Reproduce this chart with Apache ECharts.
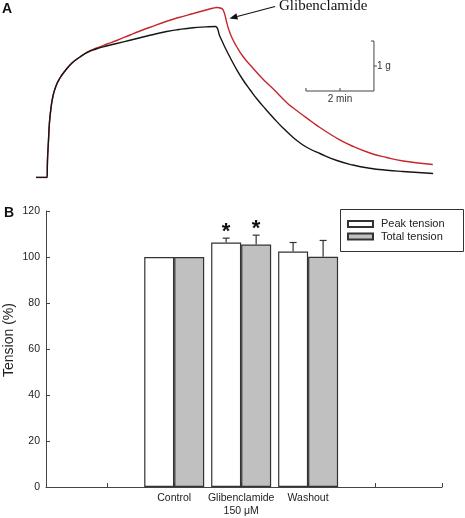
<!DOCTYPE html>
<html><head><meta charset="utf-8">
<script src="https://cdn.jsdelivr.net/npm/echarts@6/dist/echarts.min.js"></script>
<style>html,body{margin:0;padding:0;background:#fff}#c{width:465px;height:518px}</style>
</head><body><div id="c"></div>
<script>
// ---------- Panel A: tension traces (time in min, tension in g) ----------
const timeBlack = [0,0.324,0.338,0.368,0.397,0.441,0.5,0.588,0.706,0.853,1.059,1.294,1.529,1.765,2.07,2.374,2.765,3.059,3.353,3.844,4.2,4.618,5.0,5.265,
  5.41,5.56,5.71,5.90,6.10,6.30,6.50,6.75,7.00,7.25,7.50,7.75,8.00,8.35,8.85,9.32,9.82,10.32,10.79,11.68];
const tensionBlack = [0,0,0.35,0.75,1.11,1.39,1.63,1.83,1.99,2.13,2.29,2.41,2.51,2.57,2.63,2.68,2.745,2.795,2.845,2.92,2.96,2.995,3.012,3.02,
  2.82,2.6,2.40,2.16,1.94,1.75,1.57,1.37,1.18,1.0,0.84,0.70,0.59,0.48,0.34,0.25,0.185,0.145,0.12,0.08];
const timeRed = [0,0.324,0.338,0.368,0.397,0.441,0.5,0.588,0.706,0.853,1.059,1.294,1.529,1.765,2.07,2.374,2.765,3.059,3.353,3.844,4.2,4.626,5.0,5.2,5.315,
  5.46,5.51,5.56,5.61,5.66,5.76,5.90,6.10,6.39,6.70,6.98,7.37,7.57,7.86,8.16,8.35,8.84,9.33,9.82,10.31,10.8,11.67];
const tensionRed = [0,0,0.35,0.75,1.11,1.39,1.63,1.83,1.99,2.13,2.29,2.41,2.515,2.585,2.665,2.74,2.85,2.93,3.005,3.125,3.2,3.28,3.35,3.385,3.40,
  3.38,3.34,3.24,3.1,2.98,2.80,2.62,2.41,2.18,1.95,1.77,1.50,1.39,1.24,1.09,1.00,0.79,0.62,0.49,0.40,0.33,0.26];
const scaleBarCorner = [9.94, 1.73];
const scaleBarTime = 2;      // min
const scaleBarTension = 1;   // g
const arrowTip = [5.69, 3.18];
const arrowTail = [7.03, 3.42];
const drugLabel = 'Glibenclamide';

// ---------- Panel B: bar chart ----------
const categories = ['Control', 'Glibenclamide\n150 \u03bcM', 'Washout'];
const categoryPositions = [2, 3, 4];
const xTickPositions = [1, 2, 3, 4, 5, 6];
const peakTension = [100, 106.3, 102.4];
const peakError = [0, 1.9, 3.9];
const peakSignificant = [0, 1, 0];
const totalTension = [100, 105.4, 100.1];
const totalError = [0, 4.1, 7.1];
const totalSignificant = [0, 1, 0];
const yMin = 0, yMax = 120, yInterval = 20;

const FONT = '"Liberation Sans", Arial, sans-serif';

const zip = (a, b) => a.map((v, i) => [v, b[i]]);

function errorBarRenderer(offsetPx) {
  return function (params, api) {
    const x = api.value(0), v = api.value(1), e = api.value(2), sig = api.value(3);
    const base = api.coord([x, v]);
    const top = api.coord([x, v + e]);
    const cx = base[0] + offsetPx;
    const children = [];
    if (e > 0) {
      children.push({type: 'line', shape: {x1: cx, y1: base[1], x2: cx, y2: top[1]}, style: {stroke: '#333', lineWidth: 1.2}});
      children.push({type: 'line', shape: {x1: cx - 3.5, y1: top[1], x2: cx + 3.5, y2: top[1]}, style: {stroke: '#333', lineWidth: 1.2}});
    }
    if (sig) {
      children.push({type: 'text', style: {text: '*', x: cx, y: top[1] - 6.5, align: 'center', verticalAlign: 'middle',
        font: 'bold 22px ' + FONT, fill: '#111'}});
    }
    return {type: 'group', children};
  };
}

const chart = echarts.init(document.getElementById('c'), null, {renderer: 'canvas'});
chart.setOption({
  animation: false,
  backgroundColor: '#fff',
  grid: [
    {left: 36, top: 2.5, width: 397.8, height: 175},
    {left: 46, top: 211, right: 23, bottom: 30}
  ],
  xAxis: [
    {gridIndex: 0, type: 'value', min: 0, max: 11.7, show: false},
    {gridIndex: 1, type: 'value', min: 0.085, max: 6,
      axisLine: {show: true, lineStyle: {color: '#444', width: 1}},
      axisTick: {show: true, inside: true, length: 4, customValues: xTickPositions, lineStyle: {color: '#444'}},
      axisLabel: {show: true, customValues: categoryPositions, margin: 4, fontSize: 10.5, fontFamily: FONT, color: '#222', lineHeight: 13.5,
        formatter: (v) => { const i = categoryPositions.indexOf(Math.round(v)); return i >= 0 ? categories[i] : ''; }},
      splitLine: {show: false}}
  ],
  yAxis: [
    {gridIndex: 0, type: 'value', min: 0, max: 3.5, show: false},
    {gridIndex: 1, type: 'value', min: yMin, max: yMax, interval: yInterval,
      axisLine: {show: true, lineStyle: {color: '#444', width: 1}},
      axisTick: {show: true, inside: true, length: 4, lineStyle: {color: '#444'}},
      axisLabel: {margin: 6, fontSize: 10.5, fontFamily: FONT, color: '#222'},
      splitLine: {show: false}}
  ],
  legend: {
    data: ['Peak tension', 'Total tension'], orient: 'vertical', left: 347, top: 218.5,
    itemWidth: 25, itemHeight: 6, itemGap: 1.5, icon: 'rect', padding: 0,
    textStyle: {fontSize: 11, fontFamily: FONT, color: '#222', padding: [0, 0, 0, 3]}
  },
  graphic: [
    {type: 'rect', shape: {x: 340.5, y: 209.5, width: 123, height: 42}, style: {fill: 'none', stroke: '#333', lineWidth: 1}},
    {type: 'text', x: 2, y: 2, style: {text: 'A', font: 'bold 14px ' + FONT, fill: '#111'}},
    {type: 'text', x: 4, y: 206, style: {text: 'B', font: 'bold 14px ' + FONT, fill: '#111'}},
    {type: 'text', x: 9, y: 340, rotation: Math.PI / 2,
      style: {text: 'Tension (%)', x: 0, y: 0, align: 'center', verticalAlign: 'middle', font: '14px ' + FONT, fill: '#222'}}
  ],
  series: [
    {name: 'Glibenclamide trace', type: 'line', xAxisIndex: 0, yAxisIndex: 0, data: zip(timeRed, tensionRed),
      showSymbol: false, smooth: 0.5, lineStyle: {color: '#c4282c', width: 1.4}, z: 2},
    {name: 'Control trace', type: 'line', xAxisIndex: 0, yAxisIndex: 0, data: zip(timeBlack, tensionBlack),
      showSymbol: false, smooth: 0.5, lineStyle: {color: '#151515', width: 1.4}, z: 3},
    {name: 'scalebar', type: 'custom', xAxisIndex: 0, yAxisIndex: 0, clip: false, silent: true,
      data: [[scaleBarCorner[0], scaleBarCorner[1], scaleBarTime, scaleBarTension]],
      renderItem: (params, api) => {
        const cx = api.value(0), cy = api.value(1), dt = api.value(2), dg = api.value(3);
        const c = api.coord([cx, cy]), l = api.coord([cx - dt, cy]), t = api.coord([cx, cy + dg]);
        const mx = api.coord([cx - dt / 2, cy])[0], my = api.coord([cx, cy + dg / 2])[1];
        const st = {stroke: '#444', lineWidth: 1, fill: 'none'};
        return {type: 'group', children: [
          {type: 'polyline', shape: {points: [l, c, t]}, style: st},
          {type: 'line', shape: {x1: l[0], y1: c[1], x2: l[0], y2: c[1] - 3}, style: st},
          {type: 'line', shape: {x1: mx, y1: c[1], x2: mx, y2: c[1] - 3}, style: st},
          {type: 'line', shape: {x1: c[0], y1: t[1], x2: c[0] - 3, y2: t[1]}, style: st},
          {type: 'line', shape: {x1: c[0], y1: my, x2: c[0] + 3, y2: my}, style: st},
          {type: 'text', style: {text: dg + ' g', x: c[0] + 3, y: my, align: 'left', verticalAlign: 'middle', font: '10px ' + FONT, fill: '#333'}},
          {type: 'text', style: {text: dt + ' min', x: mx, y: c[1] + 3, align: 'center', verticalAlign: 'top', font: '10px ' + FONT, fill: '#333'}}
        ]};
      }},
    {name: 'annotation', type: 'custom', xAxisIndex: 0, yAxisIndex: 0, clip: false, silent: true,
      data: [[arrowTip[0], arrowTip[1], arrowTail[0], arrowTail[1]]],
      renderItem: (params, api) => {
        const tip = api.coord([api.value(0), api.value(1)]);
        const tail = api.coord([api.value(2), api.value(3)]);
        const ang = Math.atan2(tip[1] - tail[1], tip[0] - tail[0]);
        const L = 8, W = 3.2;
        const bx = tip[0] - L * Math.cos(ang), by = tip[1] - L * Math.sin(ang);
        const px = -Math.sin(ang) * W, py = Math.cos(ang) * W;
        return {type: 'group', children: [
          {type: 'line', shape: {x1: tail[0], y1: tail[1], x2: bx, y2: by}, style: {stroke: '#111', lineWidth: 1.2}},
          {type: 'polygon', shape: {points: [tip, [bx + px, by + py], [bx - px, by - py]]}, style: {fill: '#111'}},
          {type: 'text', style: {text: drugLabel, x: tail[0] + 4, y: tail[1], align: 'left', verticalAlign: 'middle',
            font: '15px "Liberation Serif", "Times New Roman", serif', fill: '#111'}}
        ]};
      }},
    {name: 'Peak tension', type: 'bar', xAxisIndex: 1, yAxisIndex: 1, data: zip(categoryPositions, peakTension),
      barWidth: 30, barGap: '0%', itemStyle: {color: '#ffffff', borderColor: '#333', borderWidth: 1.2}},
    {name: 'Total tension', type: 'bar', xAxisIndex: 1, yAxisIndex: 1, data: zip(categoryPositions, totalTension),
      barWidth: 30, barGap: '0%', itemStyle: {color: '#c0c0c0', borderColor: '#333', borderWidth: 1.2}},
    {name: 'peakErr', type: 'custom', xAxisIndex: 1, yAxisIndex: 1, clip: false, silent: true, z: 5,
      data: categoryPositions.map((p, i) => [p, peakTension[i], peakError[i], peakSignificant[i]]),
      renderItem: errorBarRenderer(-15)},
    {name: 'totalErr', type: 'custom', xAxisIndex: 1, yAxisIndex: 1, clip: false, silent: true, z: 5,
      data: categoryPositions.map((p, i) => [p, totalTension[i], totalError[i], totalSignificant[i]]),
      renderItem: errorBarRenderer(15)}
  ]
});
</script></body></html>
